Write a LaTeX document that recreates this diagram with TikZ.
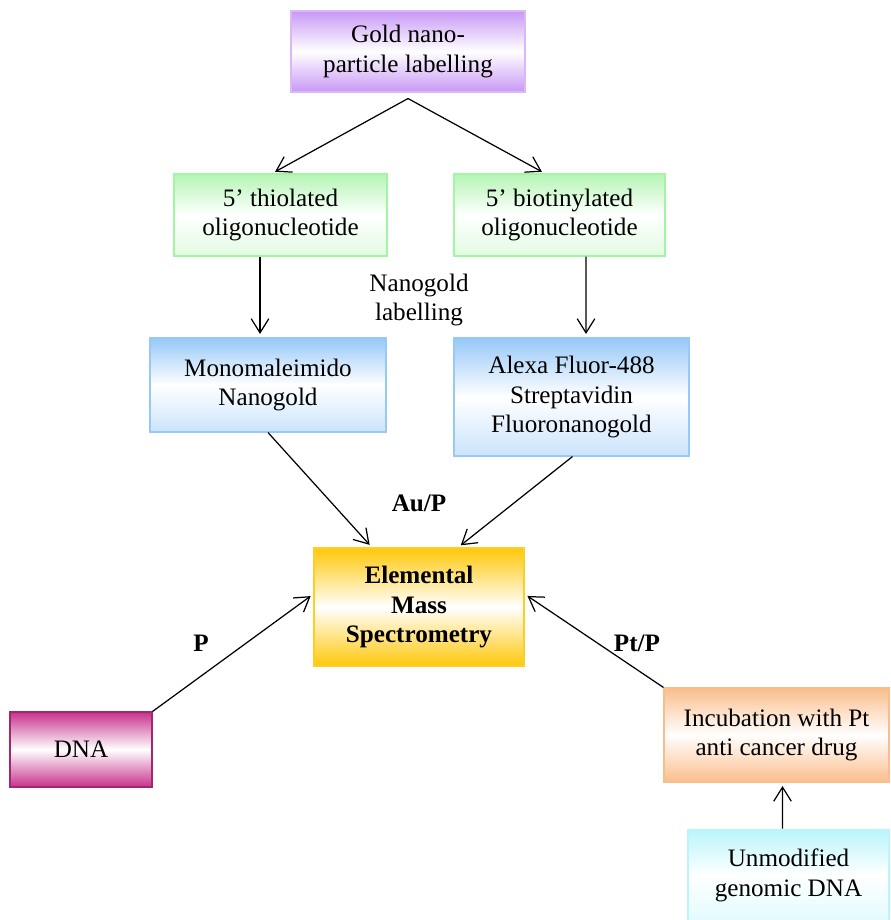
\documentclass[tikz,border=0pt]{standalone}
\usepackage{fontspec}
\setmainfont{Liberation Serif}
\usepackage{tikz}
\usetikzlibrary{arrows.meta, positioning, shapes.geometric, calc}
\definecolor{nanopurple}{RGB}{200,152,245}
\definecolor{nanogreen}{RGB}{180,245,180}
\definecolor{nanoblue}{RGB}{150,200,248}
\definecolor{nanogold}{RGB}{255,200,10}
\definecolor{nanopink}{RGB}{200,50,140}
\definecolor{nanoorange}{RGB}{250,190,140}
\definecolor{nanocyan}{RGB}{185,245,252}

\begin{document}
\begin{tikzpicture}[
  >={Straight Barb[length=8pt, width=10pt]},
  box/.style={draw, line width=0.6pt, align=center, inner sep=2pt, font=\fontsize{14.3}{17}\selectfont},
  flow/.style={->, line width=0.7pt, shorten >=2pt},
  tag/.style={font=\fontsize{14.3}{17}\selectfont\bfseries, align=center}
]
\useasboundingbox (0,0) rectangle (17.8,-18.4);

% Top
\node[box, draw=nanopurple!70, top color=nanopurple, bottom color=nanopurple, middle color=white, minimum width=4.68cm, minimum height=1.62cm] (gold) at (8.16,-1.03) {Gold nano-\\particle labelling};

% Oligonucleotides
\node[box, draw=nanogreen!90!green, top color=nanogreen, bottom color=nanogreen!40, middle color=white, minimum width=4.26cm, minimum height=1.64cm] (thiol) at (5.61,-4.30) {5’ thiolated\\oligonucleotide};
\node[box, draw=nanogreen!90!green, top color=nanogreen, bottom color=nanogreen!40, middle color=white, minimum width=4.22cm, minimum height=1.64cm] (biotin) at (11.19,-4.30) {5’ biotinylated\\oligonucleotide};

% Nanogold reagents
\node[box, draw=nanoblue, top color=nanoblue, bottom color=nanoblue!50, middle color=white, minimum width=4.72cm, minimum height=1.88cm] (mono) at (5.36,-7.70) {Monomaleimido\\Nanogold};
\node[box, draw=nanoblue, top color=nanoblue, bottom color=nanoblue!50, middle color=white, minimum width=4.70cm, minimum height=2.36cm] (alexa) at (11.43,-7.94) {Alexa Fluor-488\\Streptavidin\\Fluoronanogold};
\node[font=\fontsize{14.3}{17}\selectfont, align=center] (label) at (8.38,-6.00) {Nanogold\\labelling};

% Detection
\node[box, draw=nanogold!90, top color=nanogold, bottom color=nanogold, middle color=white, minimum width=4.20cm, minimum height=2.36cm, font=\fontsize{14.3}{17}\selectfont\bfseries] (ems) at (8.38,-12.14) {Elemental\\Mass\\Spectrometry};

% Samples
\node[box, draw=nanopink!80!black, top color=nanopink, bottom color=nanopink, middle color=white, minimum width=2.84cm, minimum height=1.50cm] (dna) at (1.62,-14.99) {DNA};
\node[box, draw=nanoorange, top color=nanoorange, bottom color=nanoorange, middle color=white, minimum width=4.50cm, minimum height=1.88cm] (incub) at (15.53,-14.70) {Incubation with Pt\\anti cancer drug};
\node[box, draw=nanocyan, top color=nanocyan, bottom color=nanocyan!40, middle color=white, minimum width=4.02cm, minimum height=1.84cm, below=0.92cm of incub, xshift=0.24cm] (unmod) {Unmodified\\genomic DNA};

% Element tags
\node[tag] (aup) at (8.38,-10.06) {Au/P};
\node[tag] (ptag) at (4.02,-12.86) {P};
\node[tag] (ptp) at (12.74,-12.86) {Pt/P};

% Edges
\coordinate (split) at ([yshift=-0.12cm]gold.south);
\draw[flow] (split) -- ([xshift=-0.17cm]thiol.north);
\draw[flow] (split) -- ([xshift=-0.29cm]biotin.north);
\draw[flow] ([xshift=-0.41cm]thiol.south) -- ([xshift=-0.16cm]mono.north);
\draw[flow] ([xshift=0.53cm]biotin.south) -- ([xshift=0.29cm]alexa.north);
\draw[flow] (mono.south) -- ([xshift=-0.94cm]ems.north);
\draw[flow] ([xshift=0.02cm]alexa.south) -- ([xshift=0.78cm]ems.north);
\draw[flow] (dna.north east) -- ([yshift=0.26cm]ems.west);
\draw[flow] (incub.north west) -- ([yshift=0.26cm]ems.east);
\draw[flow] ([xshift=-0.12cm]unmod.north) -- ([xshift=0.12cm]incub.south);

\end{tikzpicture}
\end{document}
